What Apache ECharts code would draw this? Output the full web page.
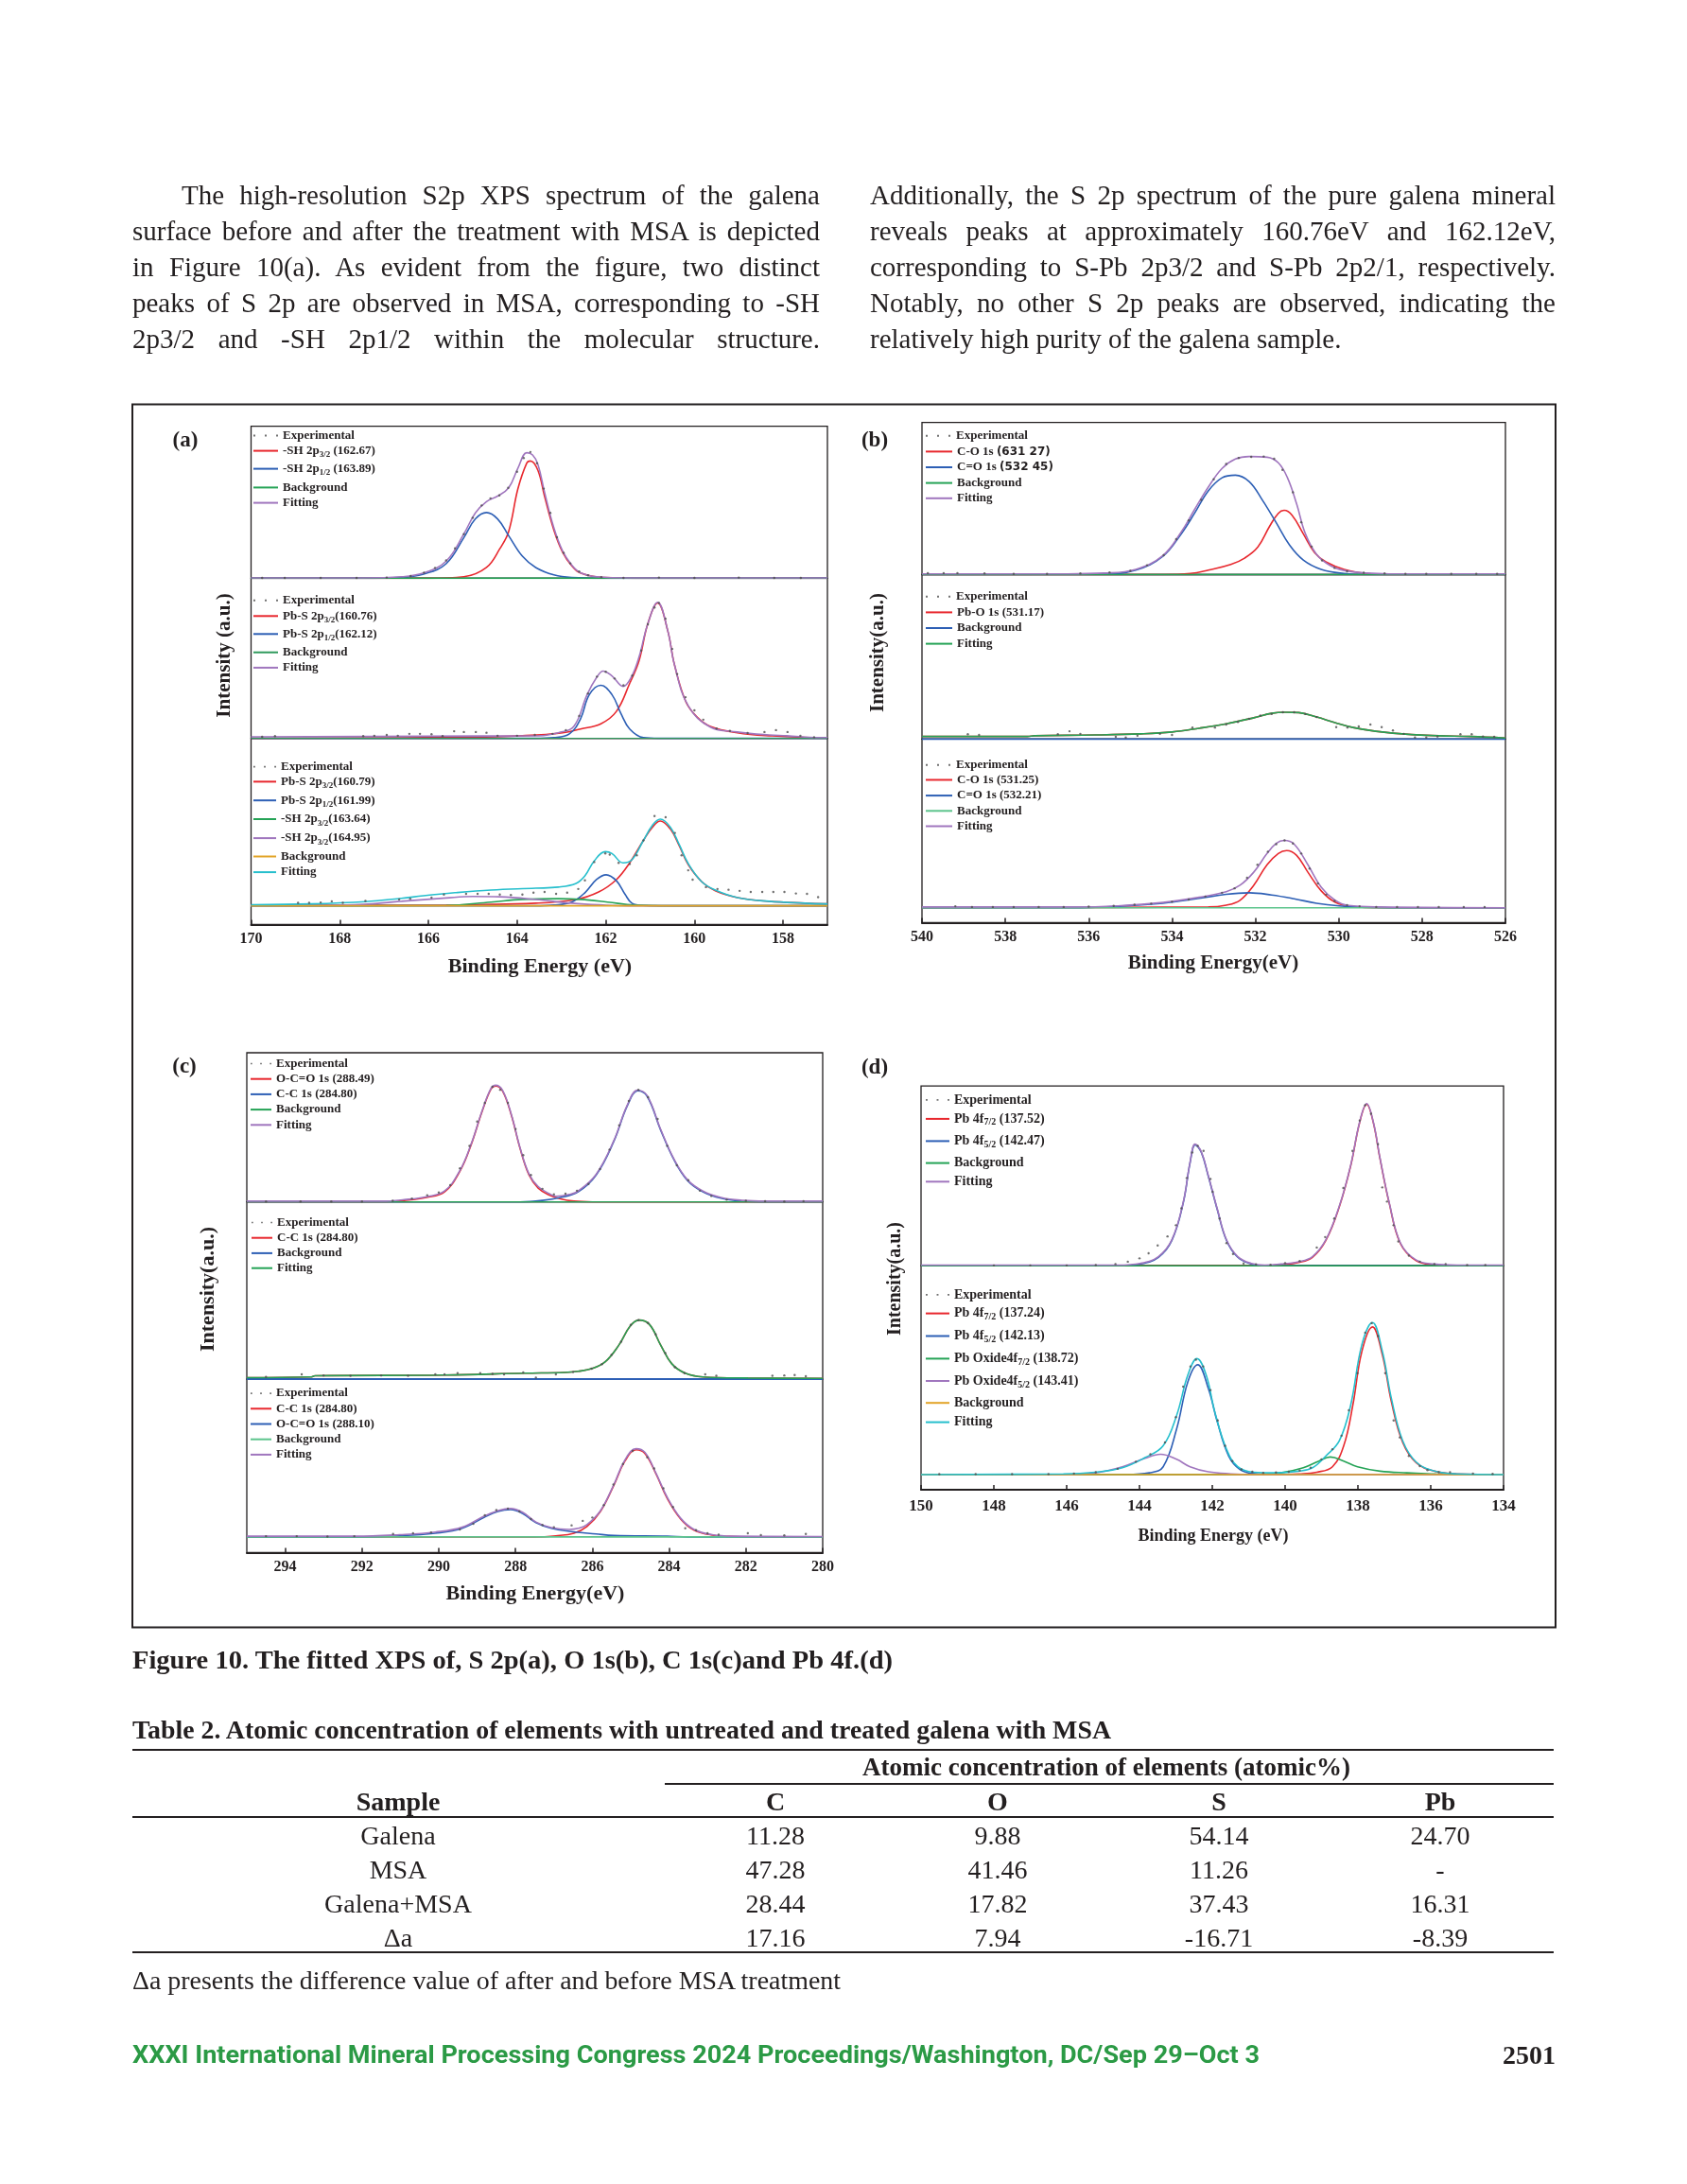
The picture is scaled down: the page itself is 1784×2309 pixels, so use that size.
<!DOCTYPE html>
<html><head><meta charset="utf-8"><title>Figure 10 - fitted XPS</title>
<script src="https://cdn.jsdelivr.net/npm/echarts@6/dist/echarts.min.js"></script>
<style>
html,body{margin:0;padding:0;background:#fff;}
#page{position:relative;width:1784px;height:2309px;overflow:hidden;background:#fff;}
#chart{position:absolute;left:0;top:0;width:1784px;height:2309px;}
.t{position:absolute;white-space:nowrap;color:#231f20;font-family:'Liberation Serif','Times New Roman',serif;}
.rule{position:absolute;background:#231f20;}
</style></head>
<body><div id="page"><div id="chart"></div></div>
<script>
// ---------------- page text ----------------
const bodyLeft = [
  "The high-resolution S2p XPS spectrum of the galena",
  "surface before and after the treatment with MSA is depicted",
  "in Figure 10(a). As evident from the figure, two distinct",
  "peaks of S 2p are observed in MSA, corresponding to -SH",
  "2p3/2 and -SH 2p1/2 within the molecular structure."
];
const bodyRight = [
  "Additionally, the S 2p spectrum of the pure galena mineral",
  "reveals peaks at approximately 160.76eV and 162.12eV,",
  "corresponding to S-Pb 2p3/2 and S-Pb 2p2/1, respectively.",
  "Notably, no other S 2p peaks are observed, indicating the",
  "relatively high purity of the galena sample."
];
const caption = "Figure 10.  The fitted XPS of, S 2p(a), O 1s(b), C 1s(c)and Pb 4f.(d)";
const tableTitle = "Table 2. Atomic concentration of elements with untreated and treated galena with MSA";
const tableGroupHeader = "Atomic concentration of elements (atomic%)";
const tableHeaders = ["Sample", "C", "O", "S", "Pb"];
const sampleNames = ["Galena", "MSA", "Galena+MSA", "\u0394a"];
const cValues = ["11.28", "47.28", "28.44", "17.16"];
const oValues = ["9.88", "41.46", "17.82", "7.94"];
const sValues = ["54.14", "11.26", "37.43", "-16.71"];
const pbValues = ["24.70", "-", "16.31", "-8.39"];
const footnote = "\u0394a presents the difference value of after and before MSA treatment";
const footerText = "XXXI International Mineral Processing Congress 2024 Proceedings/Washington, DC/Sep 29\u2013Oct 3";
const pageNumber = "2501";

// ---------------- tick labels ----------------
const ticksA = [158, 160, 162, 164, 166, 168, 170];
const ticksB = [526, 528, 530, 532, 534, 536, 538, 540];
const ticksC = [280, 282, 284, 286, 288, 290, 292, 294];
const ticksD = [134, 136, 138, 140, 142, 144, 146, 148, 150];

// ---------------- legend labels ----------------
const labelsA1 = ["Experimental", "-SH 2p{s|3/2} (162.67)", "-SH 2p{s|1/2} (163.89)", "Background", "Fitting"];
const labelsA2 = ["Experimental", "Pb-S 2p{s|3/2}(160.76)", "Pb-S 2p{s|1/2}(162.12)", "Background", "Fitting"];
const labelsA3 = ["Experimental", "Pb-S 2p{s|3/2}(160.79)", "Pb-S 2p{s|1/2}(161.99)", "-SH 2p{s|3/2}(163.64)", "-SH 2p{s|3/2}(164.95)", "Background", "Fitting"];
const labelsB1 = ["Experimental", "C-O 1s {k|(631 27)}", "C=O 1s {k|(532 45)}", "Background", "Fitting"];
const labelsB2 = ["Experimental", "Pb-O 1s (531.17)", "Background", "Fitting"];
const labelsB3 = ["Experimental", "C-O 1s (531.25)", "C=O 1s (532.21)", "Background", "Fitting"];
const labelsC1 = ["Experimental", "O-C=O 1s (288.49)", "C-C 1s (284.80)", "Background", "Fitting"];
const labelsC2 = ["Experimental", "C-C 1s (284.80)", "Background", "Fitting"];
const labelsC3 = ["Experimental", "C-C 1s (284.80)", "O-C=O 1s (288.10)", "Background", "Fitting"];
const labelsD1 = ["Experimental", "Pb 4f{s|7/2} (137.52)", "Pb 4f{s|5/2} (142.47)", "Background", "Fitting"];
const labelsD2 = ["Experimental", "Pb 4f{s|7/2} (137.24)", "Pb 4f{s|5/2} (142.13)", "Pb Oxide4f{s|7/2} (138.72)", "Pb Oxide4f{s|5/2} (143.41)", "Background", "Fitting"];

// ---------------- data: [binding energy eV, intensity a.u.] ----------------
// (a) top: MSA
const expA1 = [[169.75,1],[169.24,1],[168.43,1],[167.62,1],[166.94,2],[166.4,6],[166.1,15],[165.85,28],[165.6,48],[165.4,80],[165.2,118],[165.0,162],[164.8,195],[164.6,214],[164.4,222],[164.2,242],[164.0,285],[163.85,322],[163.7,338],[163.55,308],[163.4,240],[163.25,175],[163.1,110],[162.95,68],[162.8,40],[162.6,18],[162.4,8],[162.1,3],[161.6,1],[160.8,2],[160.0,1],[159.0,2],[158.2,1],[157.6,1]];
const redA1 = [[170,0],[166.0,0],[165.2,4],[164.69,29],[164.39,79],[164.19,125],[163.98,240],[163.78,309],[163.70,314],[163.53,289],[163.38,219],[163.17,129],[162.97,69],[162.77,34],[162.57,14],[162.06,2],[161.0,0],[157,0]];
const blueA1 = [[170,0],[167.5,0],[166.61,2],[166.11,11],[165.60,39],[165.20,109],[164.94,159],[164.69,176],[164.44,159],[164.19,114],[163.88,59],[163.58,29],[163.17,9],[162.77,2],[162.0,0],[157,0]];
const bgA1 = [[170,0],[157,0]];
const fitA1 = [[170,1],[167.5,1],[166.61,4],[166.11,14],[165.60,46],[165.20,119],[164.94,175],[164.69,205],[164.44,220],[164.19,242],[163.98,295],[163.78,336],[163.65,330],[163.53,305],[163.38,230],[163.17,135],[162.97,72],[162.77,36],[162.57,15],[162.2,4],[161.5,1],[157,1]];
// (a) middle: galena
const expA2 = [[169.75,4],[169.46,6],[167.47,6],[167.22,7],[166.94,9],[166.69,7],[166.43,12],[166.19,12],[165.93,11],[165.68,6],[165.42,19],[165.20,17],[164.93,17],[164.69,15],[164.44,7],[164.0,7],[163.6,9],[163.2,12],[162.9,22],[162.6,60],[162.4,120],[162.2,165],[162.0,178],[161.8,160],[161.6,142],[161.4,168],[161.2,235],[161.05,305],[160.9,350],[160.8,362],[160.65,320],[160.5,239],[160.39,172],[160.2,110],[160.0,75],[159.8,50],[159.5,26],[159.2,20],[158.8,14],[158.42,17],[158.16,22],[157.90,17],[157.61,7],[157.3,3]];
const redA2 = [[170,0],[165,3],[163.88,7],[162.97,15],[162.57,25],[162.11,39],[161.76,72],[161.46,147],[161.25,207],[161.05,307],[160.83,362],[160.60,287],[160.45,197],[160.19,97],[159.94,57],[159.64,32],[159.03,15],[158.32,7],[157.2,2],[157,2]];
const blueA2 = [[170,0],[163.6,0],[163.17,2],[162.82,12],[162.57,52],[162.37,117],[162.11,142],[161.86,117],[161.66,67],[161.46,25],[161.15,2],[160.8,0],[157,0]];
const bgA2 = [[170,0],[157,0]];
const fitA2 = [[170,4],[166,6],[163.5,7],[163.07,15],[162.72,32],[162.42,117],[162.21,162],[162.06,180],[161.86,167],[161.61,139],[161.41,167],[161.25,217],[161.05,307],[160.83,364],[160.60,287],[160.45,197],[160.14,87],[159.64,30],[159.03,17],[158.32,9],[157.92,7],[157.2,2],[157,2]];
// (a) bottom: galena + MSA
const expA3 = [[168.94,8],[168.69,8],[168.43,9],[168.18,12],[167.93,8],[167.42,13],[166.66,17],[166.41,19],[165.93,22],[165.65,30],[165.15,32],[164.89,32],[164.64,32],[164.39,30],[164.14,29],[163.88,30],[163.63,35],[163.38,37],[163.12,32],[162.87,35],[162.62,45],[162.47,68],[162.26,117],[162.01,140],[161.91,137],[161.71,115],[161.46,112],[161.30,135],[161.15,175],[160.90,240],[160.65,237],[160.44,195],[160.29,135],[160.14,95],[160.04,70],[159.74,50],[159.48,45],[159.23,43],[158.98,40],[158.73,37],[158.47,37],[158.22,37],[157.97,37],[157.71,33],[157.46,32],[157.21,23]];
const redA3 = [[170,1],[165.6,2],[163.58,7],[162.67,17],[162.16,37],[161.76,70],[161.46,115],[161.15,175],[160.95,210],[160.77,227],[160.54,205],[160.34,160],[160.14,110],[159.84,65],[159.53,40],[159.03,22],[158.32,12],[157.51,7],[157,5]];
const blueA3 = [[170,0],[163.6,0],[163.17,2],[162.77,10],[162.47,35],[162.21,70],[161.99,83],[161.76,67],[161.56,30],[161.41,7],[161.15,1],[160.5,0],[157,0]];
const greenA3 = [[170,0],[165.6,1],[164.59,10],[163.88,17],[163.07,19],[162.57,17],[161.96,10],[161.35,2],[160.5,0],[157,0]];
const purpleA3 = [[170,0],[167.83,2],[166.61,12],[165.60,21],[165.00,25],[164.39,24],[163.58,17],[162.77,7],[162.06,2],[161.5,0],[157,0]];
const bgA3 = [[170,0],[157,0]];
const fitA3 = [[170,3],[168.63,5],[167.42,11],[166.61,20],[166.11,27],[165.40,35],[164.59,42],[163.58,47],[163.07,50],[162.67,60],[162.47,80],[162.26,120],[162.01,145],[161.86,140],[161.61,115],[161.41,123],[161.15,175],[160.95,215],[160.77,232],[160.54,210],[160.34,163],[160.14,113],[159.84,65],[159.53,42],[159.03,22],[158.32,12],[157.51,7],[157,5]];

// (b) top
const expB1 = [[539.86,4],[539.48,4],[539.15,4],[538.5,3],[537.8,2],[537.0,2],[536.2,3],[535.5,6],[535.0,10],[534.6,25],[534.2,52],[533.9,95],[533.6,145],[533.3,200],[533.0,255],[532.7,296],[532.4,312],[532.1,315],[531.8,316],[531.55,310],[531.35,280],[531.1,220],[530.9,140],[530.65,75],[530.4,38],[530.1,18],[529.8,9],[529.4,5],[528.9,3],[528.4,2],[527.9,2],[527.3,2],[526.7,2],[526.2,2]];
const redB1 = [[540,0],[534.22,0],[533.56,3],[533.13,12],[532.59,27],[532.26,44],[531.94,74],[531.66,129],[531.45,164],[531.31,172],[531.12,159],[530.85,109],[530.58,59],[530.31,34],[529.87,14],[529.33,3],[528.79,0],[526,0]];
const blueB1 = [[540,0],[535.63,2],[534.87,12],[534.22,49],[533.78,109],[533.46,164],[533.13,224],[532.80,259],[532.48,266],[532.15,249],[531.83,199],[531.50,139],[531.18,79],[530.85,39],[530.42,14],[529.87,3],[529.33,0],[526,0]];
const bgB1 = [[540,0],[526,0]];
const fitB1 = [[540,2],[536.5,2],[535.63,4],[534.87,14],[534.22,51],[533.78,114],[533.46,174],[533.13,234],[532.80,284],[532.48,309],[532.15,316],[531.72,314],[531.45,299],[531.23,259],[531.01,189],[530.80,109],[530.53,54],[530.20,24],[529.87,11],[529.33,4],[528.79,2],[526,2]];
// (b) middle
const expB2 = [[538.90,13],[538.63,11],[536.74,13],[536.46,21],[536.20,14],[535.35,6],[535.11,4],[534.83,9],[534.29,14],[534.00,11],[533.51,31],[532.97,31],[532.70,39],[532.42,46],[532.15,54],[531.88,63],[531.61,67],[531.34,72],[531.07,72],[530.80,67],[530.53,59],[530.06,32],[529.79,31],[529.52,34],[529.24,39],[528.97,32],[528.70,23],[528.44,14],[528.17,4],[527.90,4],[527.63,7],[527.08,13],[526.81,13],[526.54,7],[526.27,6]];
const redB2 = [[540,7],[537.47,7],[537.3,9],[535.84,11],[534.76,14],[534.00,19],[533.35,29],[532.70,41],[532.04,57],[531.61,69],[531.29,72],[530.96,71],[530.53,59],[530.09,44],[529.66,31],[529.11,21],[528.25,12],[527.60,9],[526.84,7],[526,3]];
const bgB2 = [[540,0],[526,0]];
const fitB2 = [[540,7],[537.47,7],[537.3,9],[535.84,11],[534.76,14],[534.00,19],[533.35,29],[532.70,41],[532.04,57],[531.61,69],[531.29,72],[530.96,71],[530.53,59],[530.09,44],[529.66,31],[529.11,21],[528.25,12],[527.60,9],[526.84,7],[526,3]];
// (b) bottom
const expB3 = [[539.2,4],[538.8,2],[538.3,2],[537.8,2],[537.2,2],[536.6,2],[536.0,3],[535.4,5],[534.9,8],[534.5,11],[534.0,16],[533.6,22],[533.2,30],[532.8,40],[532.5,52],[532.2,80],[531.95,115],[531.7,150],[531.5,170],[531.3,180],[531.1,172],[530.9,145],[530.7,105],[530.5,65],[530.3,35],[530.1,18],[529.8,7],[529.5,4],[529.1,2],[528.6,2],[528.1,2],[527.6,2],[527.0,2],[526.5,2]];
const redB3 = [[540,0],[533.13,2],[532.70,7],[532.37,20],[532.04,60],[531.72,115],[531.45,145],[531.25,153],[531.01,140],[530.74,95],[530.42,45],[530.09,15],[529.66,3],[529.01,0],[526,0]];
const blueB3 = [[540,0],[536.39,0],[535.30,4],[534.22,12],[533.35,25],[532.70,36],[532.15,40],[531.61,34],[531.07,24],[530.53,12],[529.99,5],[529.33,1],[528.79,0],[526,0]];
const bgB3 = [[540,0],[526,0]];
const fitB3 = [[540,2],[536.39,2],[535.30,5],[534.22,14],[533.35,28],[532.70,43],[532.37,60],[532.04,95],[531.72,145],[531.50,172],[531.31,180],[531.07,170],[530.74,115],[530.42,55],[530.09,20],[529.77,6],[529.01,2],[526,0]];

// (c) top
const expC1 = [[294.5,1],[293.6,1],[292.8,1],[292.0,1],[291.2,3],[290.7,9],[290.3,18],[290.0,25],[289.7,45],[289.45,90],[289.2,150],[289.0,215],[288.8,265],[288.6,308],[288.4,300],[288.2,265],[288.0,195],[287.8,125],[287.6,72],[287.3,35],[287.0,20],[286.7,22],[286.4,30],[286.1,48],[285.8,88],[285.55,140],[285.3,205],[285.05,270],[284.8,300],[284.55,280],[284.3,222],[284.05,150],[283.8,98],[283.5,58],[283.2,30],[282.9,16],[282.5,6],[282.0,3],[281.5,2],[281.0,1],[280.5,2]];
const redC1 = [[295,0],[291.48,0],[290.90,4],[290.32,12],[289.85,27],[289.45,82],[289.16,152],[288.87,242],[288.64,302],[288.52,310],[288.34,297],[288.11,232],[287.88,142],[287.65,72],[287.41,37],[287.12,18],[286.83,8],[286.48,2],[286.0,0],[280,0]];
const blueC1 = [[295,0],[287.88,0],[287.30,4],[286.83,12],[286.37,27],[285.90,72],[285.44,162],[285.09,257],[284.82,297],[284.57,282],[284.22,192],[283.87,112],[283.52,57],[283.12,27],[282.65,10],[282.07,2],[281.49,0],[280,0]];
const bgC1 = [[295,0],[280,0]];
const fitC1 = [[295,2],[291.48,2],[290.90,6],[290.32,14],[289.85,29],[289.45,84],[289.16,154],[288.87,244],[288.64,304],[288.52,312],[288.34,299],[288.11,234],[287.88,144],[287.65,75],[287.41,41],[287.12,22],[286.95,15],[286.60,20],[286.37,29],[285.90,74],[285.44,164],[285.09,259],[284.82,299],[284.57,284],[284.22,194],[283.87,114],[283.52,59],[283.12,29],[282.65,12],[282.07,4],[281.49,2],[280,2]];
// (c) middle
const expC2 = [[294.5,6],[293.57,13],[293.0,10],[292.3,9],[291.5,10],[290.8,9],[290.09,13],[289.85,13],[289.51,16],[288.92,16],[288.6,14],[288.3,13],[287.80,18],[287.47,4],[286.95,13],[286.5,19],[286.02,28],[285.75,40],[285.5,65],[285.25,100],[285.0,145],[284.8,158],[284.55,150],[284.35,120],[284.1,70],[283.85,32],[283.6,16],[283.06,13],[282.77,9],[281.31,9],[281.0,10],[280.73,11],[280.44,8]];
const redC2 = [[295,4],[293.34,6],[293.22,9],[289.85,11],[287.76,16],[286.72,18],[286.37,21],[286.02,28],[285.67,46],[285.31,91],[285.02,141],[284.79,158],[284.51,146],[284.22,91],[283.93,41],[283.58,16],[283.12,6],[281.95,3],[280,2]];
const bgC2 = [[295,0],[280,0]];
const fitC2 = [[295,4],[293.34,6],[293.22,9],[289.85,11],[287.76,16],[286.72,18],[286.37,21],[286.02,28],[285.67,46],[285.31,91],[285.02,141],[284.79,158],[284.51,146],[284.22,91],[283.93,41],[283.58,16],[283.12,6],[281.95,3],[280,2]];
// (c) bottom
const expC3 = [[294.5,2],[293.7,2],[292.9,1],[292.2,2],[291.19,8],[290.67,10],[290.2,12],[289.45,20],[289.1,35],[288.8,58],[288.5,72],[288.2,76],[287.9,68],[287.6,48],[287.3,32],[287.0,26],[286.54,31],[286.25,43],[286.0,52],[285.7,85],[285.45,140],[285.2,195],[284.95,230],[284.57,213],[284.39,183],[284.15,130],[283.9,80],[283.58,23],[283.3,18],[283.0,10],[282.71,6],[281.95,10],[281.61,5],[281.0,4],[280.44,8]];
const redC3 = [[295,0],[287.5,0],[286.95,3],[286.48,10],[286.14,28],[285.79,68],[285.44,138],[285.15,203],[284.86,233],[284.63,223],[284.34,168],[284.05,103],[283.70,48],[283.35,18],[282.88,5],[282.30,1],[281.5,0],[280,0]];
const blueC3 = [[295,0],[292.18,0],[291.02,3],[290.09,10],[289.39,23],[288.81,53],[288.46,68],[288.13,73],[287.82,63],[287.47,38],[287.07,23],[286.60,15],[285.90,8],[285.44,4],[284.05,2],[283.5,0],[280,0]];
const bgC3 = [[295,0],[280,0]];
const fitC3 = [[295,2],[292.18,2],[291.02,6],[290.09,13],[289.39,26],[288.81,56],[288.46,70],[288.13,76],[287.82,66],[287.47,40],[287.07,25],[286.60,20],[286.37,23],[286.14,33],[285.79,70],[285.44,140],[285.15,206],[284.86,236],[284.63,226],[284.34,170],[284.05,106],[283.70,50],[283.35,20],[282.88,6],[282.30,2],[280,1]];

// (d) top
const expD1 = [[149.03,-3],[148.0,1],[147.0,1],[146.0,1],[145.2,2],[144.66,5],[144.32,12],[144.00,22],[143.75,37],[143.50,60],[143.23,87],[143.0,120],[142.85,170],[142.7,260],[142.55,335],[142.4,355],[142.24,340],[142.05,257],[141.99,219],[141.8,140],[141.61,67],[141.43,35],[141.14,7],[140.8,4],[140.4,3],[140.0,8],[139.6,14],[139.13,54],[138.9,85],[138.65,140],[138.4,230],[138.15,340],[137.95,430],[137.8,475],[137.64,450],[137.45,360],[137.33,232],[137.2,190],[137.02,120],[136.89,72],[136.6,30],[136.3,12],[135.90,5],[135.59,5],[135.0,2],[134.5,2]];
const redD1 = [[150,0],[140.5,0],[140.12,3],[139.63,10],[139.25,25],[138.88,75],[138.51,175],[138.20,295],[137.95,425],[137.76,478],[137.58,425],[137.39,315],[137.14,185],[136.83,65],[136.40,15],[135.90,3],[135.28,0],[134,0]];
const blueD1 = [[150,0],[144.60,0],[143.98,5],[143.48,25],[143.11,75],[142.80,185],[142.61,305],[142.47,358],[142.30,335],[142.11,265],[141.86,165],[141.61,75],[141.30,25],[140.93,5],[140.56,0],[134,0]];
const bgD1 = [[150,0],[134,0]];
const fitD1 = [[150,2],[144.60,2],[143.98,7],[143.48,27],[143.11,77],[142.80,187],[142.61,307],[142.47,360],[142.30,337],[142.11,267],[141.86,167],[141.61,77],[141.30,27],[140.93,7],[140.56,2],[140.12,5],[139.63,12],[139.25,27],[138.88,77],[138.51,177],[138.20,297],[137.95,427],[137.76,480],[137.58,427],[137.39,317],[137.14,187],[136.83,67],[136.40,17],[135.90,5],[135.28,2],[134,2]];
// (d) bottom
const expD2 = [[149.5,1],[148.5,1],[147.5,1],[146.5,1],[145.8,3],[145.2,7],[144.6,17],[144.1,38],[143.7,60],[143.3,95],[143.0,170],[142.8,260],[142.6,320],[142.45,340],[142.25,320],[142.05,250],[141.85,160],[141.65,85],[141.45,40],[141.2,15],[140.9,8],[140.6,5],[140.25,6],[139.9,8],[139.6,12],[139.3,20],[139.0,45],[138.7,75],[138.45,115],[138.25,190],[138.01,300],[137.8,420],[137.62,448],[137.45,410],[137.25,300],[137.02,160],[136.85,110],[136.6,55],[136.3,25],[136.09,13],[135.78,7],[135.47,7],[134.84,3],[134.3,2]];
const redD2 = [[150,0],[140.25,0],[139.63,2],[139.13,7],[138.70,23],[138.39,85],[138.14,205],[137.89,365],[137.60,437],[137.33,355],[137.08,215],[136.77,95],[136.40,35],[135.90,10],[135.28,2],[134,0]];
const blueD2 = [[150,0],[144.35,0],[143.73,5],[143.35,23],[142.98,135],[142.67,275],[142.40,325],[142.11,255],[141.86,155],[141.55,55],[141.24,15],[140.87,3],[140.25,0],[134,0]];
const greenD2 = [[150,0],[140.87,0],[140.12,5],[139.50,20],[139.07,40],[138.76,52],[138.39,40],[138.01,23],[137.39,10],[136.65,5],[135.90,2],[135.28,0],[134,0]];
const purpleD2 = [[150,0],[146.09,0],[145.22,5],[144.47,23],[143.85,48],[143.42,60],[142.98,45],[142.61,23],[142.11,8],[141.49,2],[140.87,0],[134,0]];
const bgD2 = [[150,0],[134,0]];
const fitD2 = [[150,0],[146.09,2],[145.22,7],[144.47,20],[143.85,50],[143.35,85],[142.98,175],[142.67,295],[142.42,343],[142.17,295],[141.93,185],[141.61,75],[141.30,23],[140.87,7],[140.25,5],[139.63,10],[139.25,20],[138.88,55],[138.51,100],[138.20,205],[137.89,385],[137.60,450],[137.33,365],[137.08,225],[136.77,100],[136.40,37],[135.90,10],[135.28,2],[134,0]];

// ---------------- HTML text layout ----------------
const page = document.getElementById('page');
function put(str, o) {
  const el = document.createElement('div');
  el.className = 't';
  el.textContent = str;
  const lh = Math.round(o.size * 1.4);
  el.style.fontSize = o.size + 'px';
  el.style.lineHeight = lh + 'px';
  if (o.bold) el.style.fontWeight = 'bold';
  if (o.family) el.style.fontFamily = o.family;
  if (o.color) el.style.color = o.color;
  page.appendChild(el);
  const nat = el.getBoundingClientRect().width;
  el.style.top = (o.y - lh / 2) + 'px';
  let left = o.x;
  if (o.mode === 'justify') {
    if (nat <= o.w - 1) {
      el.style.whiteSpace = 'normal'; el.style.width = o.w + 'px';
      el.style.textAlign = 'justify'; el.style.textAlignLast = 'justify';
    } else {
      el.style.transformOrigin = '0 50%'; el.style.transform = 'scaleX(' + (o.w / nat) + ')';
    }
  } else if (o.mode === 'fit') {
    el.style.transformOrigin = '0 50%'; el.style.transform = 'scaleX(' + (o.w / nat) + ')';
  } else if (o.mode === 'center') {
    left = o.x - nat / 2;
  } else if (o.mode === 'right') {
    left = o.x - nat;
  }
  el.style.left = left + 'px';
}
function rule(x, y, w, h) {
  const r = document.createElement('div');
  r.className = 'rule';
  Object.assign(r.style, { left: x + 'px', top: (y - h / 2) + 'px', width: w + 'px', height: h + 'px' });
  page.appendChild(r);
}

const bodyY = [206, 244, 282, 320, 358];
bodyLeft.forEach((s, i) => {
  const x = i === 0 ? 192 : 140;
  put(s, { x, y: bodyY[i], w: 867 - x, size: 29, mode: 'justify' });
});
bodyRight.forEach((s, i) => {
  if (i < bodyRight.length - 1) put(s, { x: 920, y: bodyY[i], w: 725, size: 29, mode: 'justify' });
  else put(s, { x: 920, y: bodyY[i], size: 29, mode: 'left' });
});
put(caption, { x: 140, y: 1754, w: 804, size: 28, bold: true, mode: 'fit' });
put(tableTitle, { x: 140, y: 1828, w: 1035, size: 28, bold: true, mode: 'fit' });
rule(140, 1850, 1503, 2.5);
put(tableGroupHeader, { x: 1170, y: 1868, size: 27, bold: true, mode: 'center' });
rule(703, 1886, 940, 2);
const colX = [421, 820, 1055, 1289, 1523];
tableHeaders.forEach((h, i) => put(h, { x: colX[i], y: 1904, size: 28, bold: true, mode: 'center' }));
rule(140, 1921, 1503, 2);
const rowY = [1940, 1976, 2012, 2048];
sampleNames.forEach((n, r) => {
  const vals = [n, cValues[r], oValues[r], sValues[r], pbValues[r]];
  vals.forEach((v, i) => put(v, { x: colX[i], y: rowY[r], size: 28, mode: 'center' }));
});
rule(140, 2064, 1503, 2.5);
put(footnote, { x: 140, y: 2093, w: 749, size: 28, mode: 'fit' });
put(footerText, { x: 140, y: 2172, w: 1192, size: 25, bold: true, family: "Roboto, 'Liberation Sans', sans-serif", color: '#2b9a45', mode: 'fit' });
put(pageNumber, { x: 1645, y: 2172, size: 28, bold: true, mode: 'right' });

// ---------------- ECharts figure ----------------
const SERIF = "'Liberation Serif','Times New Roman',serif";
const INK = '#231f20';
const COL = { red: '#e8282e', blue: '#2d5fb5', green: '#25a356', purple: '#a076be', cyan: '#26bfcd', orange: '#e2a428', lgreen: '#5cc48c', exp: '#4d4d4d' };
const DOTS = 'path://M0,0h2v2h-2zM12,0h2v2h-2zM24,0h2v2h-2z';

const panels = [
  { id: 'a1', left: 265.5, width: 609.5, top: 450.6, height: 160.8, x: [157, 170], y: [0, 407], ticks: null,
    lg: { x: 268, w: 26, fs: 13, ys: [460.4, 476.6, 495.6, 515.4, 531.6], labels: labelsA1 },
    s: [{ d: expA1, k: 'exp' }, { d: redA1, c: COL.red }, { d: blueA1, c: COL.blue }, { d: bgA1, c: COL.green, r: 'bg' }, { d: fitA1, c: COL.purple, r: 'fit' }] },
  { id: 'a2', left: 265.5, width: 609.5, top: 611.4, height: 169.2, x: [157, 170], y: [0, 428], ticks: null,
    lg: { x: 268, w: 26, fs: 13, ys: [634.7, 651.3, 670.3, 689.7, 705.9], labels: labelsA2 },
    s: [{ d: expA2, k: 'exp' }, { d: redA2, c: COL.red }, { d: blueA2, c: COL.blue }, { d: bgA2, c: '#2f9a5c', r: 'bg', w: 1.2 }, { d: fitA2, c: COL.purple, r: 'fit' }] },
  { id: 'a3', left: 265.5, width: 609.5, top: 780.6, height: 196.8, x: [157, 170], y: [-50, 448], ticks: ticksA,
    lg: { x: 268, w: 24, fs: 13, ys: [810.6, 826.4, 846.2, 866.0, 886.1, 905.5, 922.1], labels: labelsA3 },
    s: [{ d: expA3, k: 'exp' }, { d: redA3, c: COL.red }, { d: blueA3, c: COL.blue }, { d: greenA3, c: COL.green }, { d: purpleA3, c: COL.purple }, { d: bgA3, c: COL.orange, r: 'bg' }, { d: fitA3, c: COL.cyan, r: 'fit' }] },

  { id: 'b1', left: 975, width: 617, top: 446.6, height: 160.9, x: [526, 540], y: [0, 407], ticks: null,
    lg: { x: 979, w: 28, fs: 13, ys: [460.8, 477.4, 494.0, 510.6, 526.8], labels: labelsB1 },
    s: [{ d: expB1, k: 'exp' }, { d: redB1, c: COL.red }, { d: blueB1, c: COL.blue }, { d: bgB1, c: COL.green, r: 'bg' }, { d: fitB1, c: COL.purple, r: 'fit' }] },
  { id: 'b2', left: 975, width: 617, top: 607.5, height: 173.9, x: [526, 540], y: [0, 440], ticks: null,
    lg: { x: 979, w: 28, fs: 13, ys: [630.8, 647.4, 664.0, 680.6], labels: labelsB2 },
    s: [{ d: expB2, k: 'exp' }, { d: redB2, c: COL.red, r: 'hide' }, { d: bgB2, c: COL.blue, r: 'bg', w: 2 }, { d: fitB2, c: COL.green, r: 'fit' }] },
  { id: 'b3', left: 975, width: 617, top: 781.4, height: 194.1, x: [526, 540], y: [-40, 451], ticks: ticksB,
    lg: { x: 979, w: 28, fs: 13, ys: [808.7, 824.5, 841.1, 857.3, 873.5], labels: labelsB3 },
    s: [{ d: expB3, k: 'exp' }, { d: redB3, c: COL.red }, { d: blueB3, c: COL.blue }, { d: bgB3, c: COL.lgreen, r: 'bg' }, { d: fitB3, c: COL.purple, r: 'fit' }] },

  { id: 'c1', left: 261, width: 609, top: 1113, height: 157.7, x: [280, 295], y: [0, 399], ticks: null,
    lg: { x: 265, w: 22, fs: 13, ys: [1124.5, 1140.7, 1156.9, 1173.1, 1189.3], labels: labelsC1 },
    s: [{ d: expC1, k: 'exp' }, { d: redC1, c: COL.red, r: 'hide' }, { d: blueC1, c: COL.blue, r: 'hide' }, { d: bgC1, c: COL.green, r: 'bg' }, { d: fitC1, c: COL.purple, r: 'fit' }] },
  { id: 'c2', left: 261, width: 609, top: 1270.7, height: 187.4, x: [280, 295], y: [0, 474], ticks: null,
    lg: { x: 266, w: 22, fs: 13, ys: [1292.5, 1308.7, 1324.9, 1340.7], labels: labelsC2 },
    s: [{ d: expC2, k: 'exp' }, { d: redC2, c: COL.red, r: 'hide' }, { d: bgC2, c: COL.blue, r: 'bg', w: 2 }, { d: fitC2, c: COL.green, r: 'fit' }] },
  { id: 'c3', left: 261, width: 609, top: 1458.1, height: 183.4, x: [280, 295], y: [-42, 422], ticks: ticksC,
    lg: { x: 265, w: 22, fs: 13, ys: [1473.1, 1489.3, 1505.5, 1521.7, 1537.9], labels: labelsC3 },
    s: [{ d: expC3, k: 'exp' }, { d: redC3, c: COL.red }, { d: blueC3, c: COL.blue }, { d: bgC3, c: COL.lgreen, r: 'bg' }, { d: fitC3, c: COL.purple, r: 'fit' }] },

  { id: 'd1', left: 974, width: 616, top: 1148.2, height: 190, x: [134, 150], y: [0, 532], ticks: null,
    lg: { x: 979, w: 25, fs: 14, ys: [1162.9, 1182.9, 1206.4, 1229.6, 1249.3], labels: labelsD1 },
    s: [{ d: expD1, k: 'exp' }, { d: redD1, c: COL.red, r: 'hide' }, { d: blueD1, c: COL.blue, r: 'hide' }, { d: bgD1, c: COL.green, r: 'bg' }, { d: fitD1, c: COL.purple, r: 'fit' }] },
  { id: 'd2', left: 974, width: 616, top: 1338.2, height: 236.8, x: [134, 150], y: [-45, 618], ticks: ticksD,
    lg: { x: 979, w: 25, fs: 14, ys: [1368.9, 1388.6, 1412.5, 1436.4, 1460.0, 1483.2, 1503.6], labels: labelsD2 },
    s: [{ d: expD2, k: 'exp' }, { d: redD2, c: COL.red }, { d: blueD2, c: COL.blue }, { d: greenD2, c: COL.green }, { d: purpleD2, c: COL.purple }, { d: bgD2, c: COL.orange, r: 'bg' }, { d: fitD2, c: COL.cyan, r: 'fit' }] }
];

const Z = { hide: 2, bg: 4.5, fit: 5 };
const grid = [], xAxis = [], yAxis = [], series = [], legend = [];
panels.forEach((p, gi) => {
  const hasAxis = !!p.ticks;
  grid.push({ left: p.left, top: p.top, width: p.width, height: p.height, show: true, borderColor: INK, borderWidth: 1.3, backgroundColor: 'transparent', containLabel: false });
  xAxis.push({
    gridIndex: gi, type: 'value', min: p.x[0], max: p.x[1], inverse: true, show: hasAxis,
    axisLine: { show: hasAxis, onZero: false, lineStyle: { color: INK, width: 2 } },
    axisTick: { show: hasAxis, inside: true, length: 5, customValues: p.ticks || [], lineStyle: { color: INK, width: 1.5 } },
    axisLabel: { show: hasAxis, customValues: p.ticks || [], margin: p.id === 'd2' ? 9 : 7, color: INK, fontFamily: SERIF, fontWeight: 'bold', fontSize: p.id === 'd2' ? 17 : 16 },
    splitLine: { show: false }
  });
  yAxis.push({ gridIndex: gi, type: 'value', min: p.y[0], max: p.y[1], show: false, splitLine: { show: false } });
  p.s.forEach((s, si) => {
    const name = p.id + '_' + si;
    if (s.k === 'exp') {
      series.push({ name, type: 'scatter', xAxisIndex: gi, yAxisIndex: gi, data: s.d, symbol: 'circle', symbolSize: 2.4, itemStyle: { color: COL.exp }, z: 6, silent: true });
    } else {
      series.push({ name, type: 'line', xAxisIndex: gi, yAxisIndex: gi, data: s.d, showSymbol: false, smooth: 0.4,
        lineStyle: { color: s.c, width: s.w || 1.6 }, itemStyle: { color: s.c }, z: Z[s.r] || 4, silent: true });
    }
    const label = p.lg.labels[si];
    const cy = p.lg.ys[si];
    legend.push({
      show: true, selectedMode: false, padding: 0, left: p.lg.x, top: cy - 9,
      itemWidth: p.lg.w, itemHeight: 2, itemGap: 0,
      data: [{ name, icon: s.k === 'exp' ? DOTS : 'rect' }],
      formatter: () => label,
      textStyle: {
        color: INK, fontFamily: SERIF, fontWeight: 'bold', fontSize: p.lg.fs, lineHeight: 18,
        rich: {
          s: { color: INK, fontFamily: SERIF, fontWeight: 'bold', fontSize: p.lg.fs - 4, lineHeight: p.lg.fs - 4, verticalAlign: 'bottom' },
          k: { color: INK, fontFamily: "'Liberation Sans Narrow','DejaVu Sans',sans-serif", fontWeight: 'bold', fontSize: p.lg.fs - 1, lineHeight: 18 }
        }
      }
    });
  });
});

function gtext(t, x, y, size, rot) {
  return { type: 'text', x, y, rotation: rot || 0, silent: true, z: 10,
    style: { text: t, x: 0, y: 0, font: 'bold ' + size + 'px ' + SERIF, fill: INK, textAlign: 'center', textVerticalAlign: 'middle' } };
}
const graphic = [
  { type: 'rect', silent: true, z: 0, shape: { x: 140, y: 427.5, width: 1505, height: 1293 }, style: { fill: 'none', stroke: INK, lineWidth: 2 } },
  gtext('(a)', 196, 466, 23), gtext('(b)', 925, 466, 23), gtext('(c)', 195, 1128, 23), gtext('(d)', 925, 1129, 23),
  gtext('Binding Energy (eV)', 571, 1022, 22), gtext('Binding Energy(eV)', 1283, 1019, 21),
  gtext('Binding Energy(eV)', 566, 1685, 22), gtext('Binding Energy (eV)', 1283, 1624, 18),
  gtext('Intensity (a.u.)', 238, 693, 21, Math.PI / 2), gtext('Intensity(a.u.)', 929, 690, 21, Math.PI / 2),
  gtext('Intensity(a.u.)', 220, 1363, 22, Math.PI / 2), gtext('Intensity(a.u.)', 947, 1352, 20, Math.PI / 2)
];

const chart = echarts.init(document.getElementById('chart'), null, { renderer: 'canvas', width: 1784, height: 2309 });
chart.setOption({ animation: false, backgroundColor: 'transparent', grid, xAxis, yAxis, series, legend, graphic });
</script></body></html>
